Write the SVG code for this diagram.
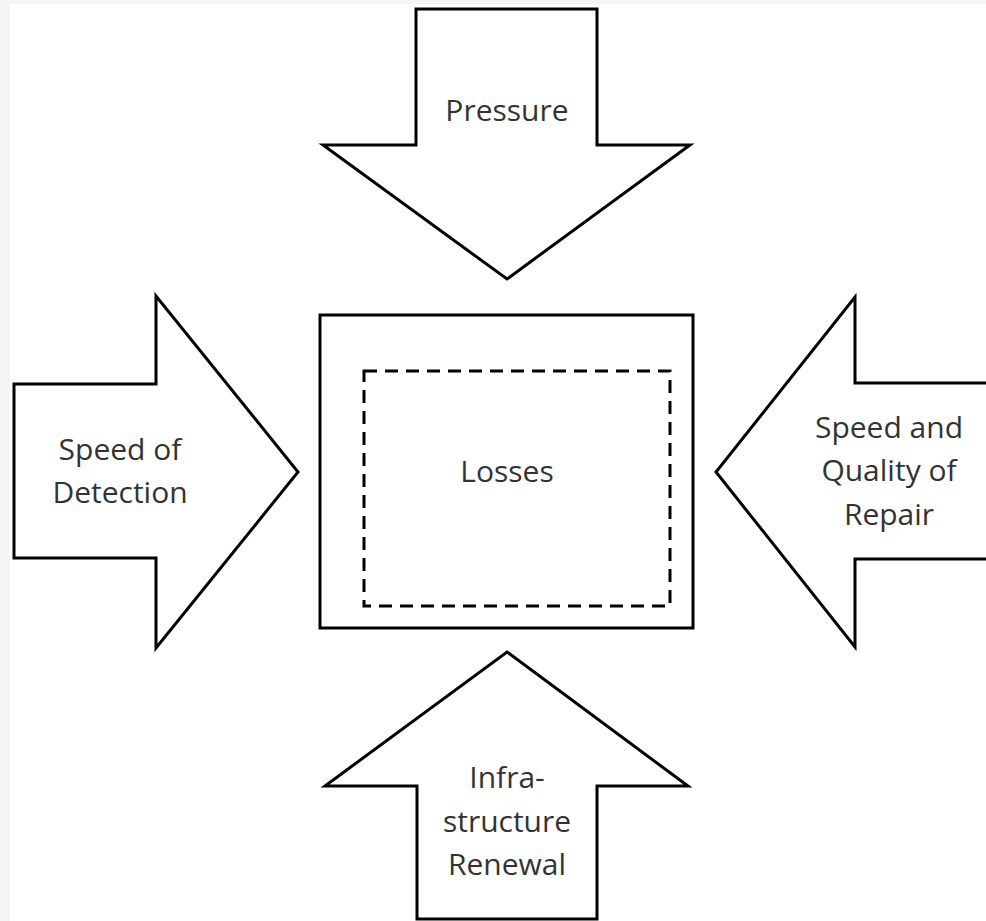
<svg xmlns="http://www.w3.org/2000/svg" width="986" height="921" viewBox="0 0 986 921">
<style>
.arrow{fill:#ffffff;stroke:#000000;stroke-width:3;stroke-linejoin:miter}
.box{fill:#ffffff;stroke:#000000;stroke-width:3}
.dash{fill:none;stroke:#000000;stroke-width:3;stroke-dasharray:13 8}
.lbl{font-family:"Open Sans","Liberation Sans",sans-serif;font-size:30px;fill:#333333;text-anchor:middle}
</style>
<rect x="0" y="0" width="986" height="921" fill="#ffffff"/>
<rect x="0" y="0" width="10" height="921" fill="#f5f5f5"/>
<rect x="0" y="0" width="986" height="4" fill="#f5f5f5"/>
<g id="pressure">
<polygon class="arrow" points="416,9 597,9 597,145 690,145 507,279 323,145 416,145"/>
<text class="lbl" x="507" y="121">Pressure</text>
</g>
<g id="detection">
<polygon class="arrow" points="14,384 156,384 156,296 298,472 156,648 156,558 14,558"/>
<text class="lbl" x="120" y="460">Speed of</text>
<text class="lbl" x="120" y="503">Detection</text>
</g>
<g id="repair">
<polygon class="arrow" points="990,383 855,383 855,297 716,472 855,647 855,559 990,559"/>
<text class="lbl" x="889" y="438">Speed and</text>
<text class="lbl" x="889" y="481">Quality of</text>
<text class="lbl" x="889" y="525">Repair</text>
</g>
<g id="renewal">
<polygon class="arrow" points="417,919 417,786 325,786 507,652 688,786 597,786 597,919"/>
<text class="lbl" x="507" y="788">Infra-</text>
<text class="lbl" x="507" y="832">structure</text>
<text class="lbl" x="507" y="875">Renewal</text>
</g>
<g id="losses">
<rect class="box" x="320" y="315" width="373" height="313"/>
<rect class="dash" x="364" y="371" width="306" height="235"/>
<text class="lbl" x="507" y="482">Losses</text>
</g>
<g id="connectors"></g>
</svg>
